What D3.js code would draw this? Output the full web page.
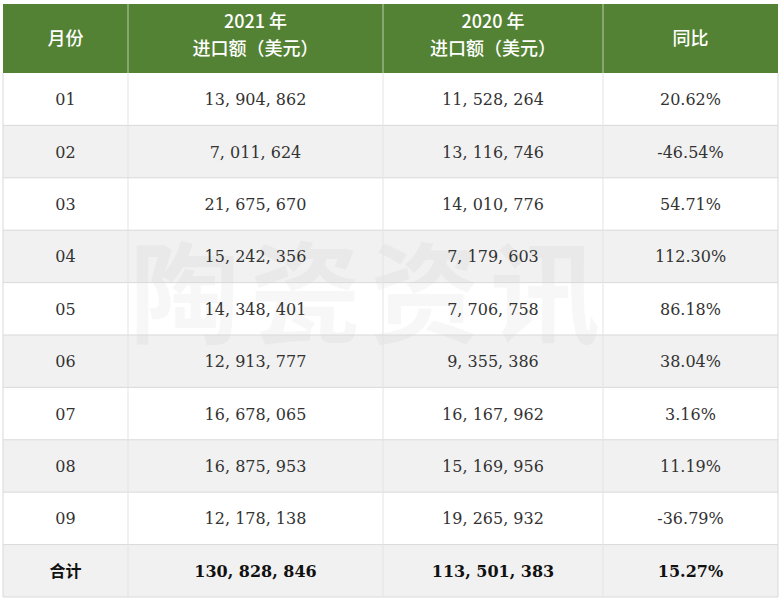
<!DOCTYPE html>
<html><head><meta charset="utf-8">
<script src="https://cdn.jsdelivr.net/npm/d3@7"></script>
<style>body{margin:0;background:#fff}</style>
</head><body>
<script>
// data
var months = ["01","02","03","04","05","06","07","08","09"];
var imp2021 = [13904862, 7011624, 21675670, 15242356, 14348401, 12913777, 16678065, 16875953, 12178138];
var imp2020 = [11528264, 13116746, 14010776, 7179603, 7706758, 9355386, 16167962, 15169956, 19265932];
var yoy = ["20.62%", "-46.54%", "54.71%", "112.30%", "86.18%", "38.04%", "3.16%", "11.19%", "-36.79%"];
var totalRow = ["合计", "130,828,846", "113,501,383", "15.27%"];
var headers = [["月份"], ["2021 年", "进口额（美元）"], ["2020 年", "进口额（美元）"], ["同比"]];

var W = 780, H = 600;
var colEdges = [3, 128, 383, 603, 778];
var fmt = d3.format(",");
var rows = months.map(function(m, i) { return [m, fmt(imp2021[i]), fmt(imp2020[i]), yoy[i]]; });
rows.push(totalRow);

var svg = d3.select("body").append("svg").attr("width", W).attr("height", H);
var y = d3.scaleBand().domain(d3.range(rows.length)).range([73, 597]);
var serif = "'DejaVu Serif','Liberation Serif',serif";
var cjk = "'Noto Sans CJK SC',sans-serif";

// header
svg.append("rect").attr("x", 3).attr("y", 4).attr("width", 775).attr("height", 69).attr("fill", "#548235");
headers.forEach(function(h, c) {
  var cx = (colEdges[c] + colEdges[c + 1]) / 2;
  h.forEach(function(t, k) {
    svg.append("text").attr("x", cx).attr("y", h.length == 1 ? 45 : 28 + k * 27)
      .attr("text-anchor", "middle").attr("fill", "#fff")
      .attr("font-family", cjk).attr("font-size", 18).attr("font-weight", 500).text(t);
  });
});

// watermark
svg.append("text").attr("x", 370).attr("y", 335).attr("text-anchor", "middle")
  .attr("font-family", cjk).attr("font-size", 110).attr("font-weight", "bold")
  .attr("fill", "#000").attr("fill-opacity", 0.03).attr("letter-spacing", 10).text("陶瓷资讯");

// body rows
rows.forEach(function(r, i) {
  var g = svg.insert("g", "text");
  g.append("rect").attr("x", 3).attr("y", y(i)).attr("width", 775).attr("height", y.bandwidth())
    .attr("fill", i % 2 == 1 ? "#f1f1f1" : "#fff");
});
rows.forEach(function(r, i) {
  var total = i == rows.length - 1;
  r.forEach(function(t, c) {
    svg.append("text").attr("x", (colEdges[c] + colEdges[c + 1]) / 2).attr("y", y(i) + y.bandwidth() / 2 + 6)
      .attr("text-anchor", "middle").attr("fill", total ? "#111" : "#333")
      .attr("font-family", total && c == 0 ? cjk : serif)
      .attr("font-weight", total ? "bold" : "normal")
      .attr("font-size", 16).text(t.replace(/,/g, ", "));
  });
});

// grid lines
rows.forEach(function(r, i) {
  svg.append("line").attr("x1", 3).attr("x2", 778).attr("y1", y(i) + y.bandwidth()).attr("y2", y(i) + y.bandwidth())
    .attr("stroke", "#d9d9d9");
});
colEdges.forEach(function(x, c) {
  svg.append("line").attr("x1", x).attr("x2", x).attr("y1", 73).attr("y2", 597)
    .attr("stroke", c == 0 || c == 4 ? "#d9d9d9" : "#e3e3e3");
});
colEdges.slice(1, 4).forEach(function(x) {
  svg.append("line").attr("x1", x).attr("x2", x).attr("y1", 4).attr("y2", 73).attr("stroke", "#fff").attr("stroke-opacity", 0.6);
});
</script>
</body></html>
